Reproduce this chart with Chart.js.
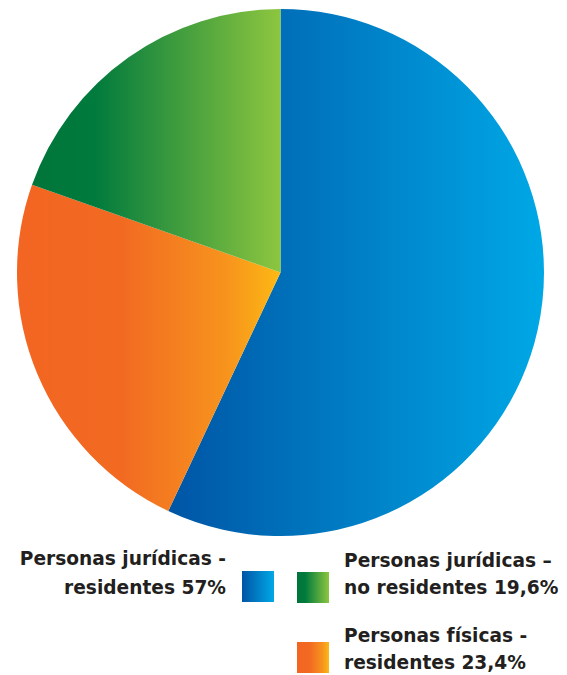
<!DOCTYPE html>
<html lang="es">
<head>
<meta charset="UTF-8">
<title>Distribución</title>
<script src="https://cdn.jsdelivr.net/npm/chart.js"></script>
<style>
    body {
        margin: 0;
        background: #fff;
        width: 567px;
        height: 675px;
        position: relative;
        overflow: hidden;
        font-family: "DejaVu Sans", Verdana, sans-serif;
    }
    #box {
        position: absolute;
        left: 17px;
        top: 9px;
        width: 527px;
        height: 527px;
    }
    .item {
        position: absolute;
        font-weight: bold;
        font-size: 18.6px;
        line-height: 27px;
        color: #231f20;
        white-space: nowrap;
    }
    .sw {
        position: absolute;
        width: 32px;
        height: 31px;
    }
</style>
</head>
<body>
<div id="box"><canvas id="pie"></canvas></div>

<div class="item" id="t0" style="right:341px; top:544px; text-align:right; line-height:29px;"></div>
<div class="sw" id="s0" style="left:242px; top:571px;"></div>

<div class="sw" id="s1" style="left:297px; top:572px;"></div>
<div class="item" id="t1" style="left:344px; top:547px;"></div>

<div class="sw" id="s2" style="left:297px; top:642px;"></div>
<div class="item" id="t2" style="left:344px; top:622px;"></div>

<script>
    // data
    const labels = ['Personas jurídicas - residentes', 'Personas físicas - residentes', 'Personas jurídicas – no residentes'];
    const legendLines = [
        ['Personas jurídicas -', 'residentes 57%'],
        ['Personas físicas -', 'residentes 23,4%'],
        ['Personas jurídicas –', 'no residentes 19,6%']
    ];
    const values = [57, 23.4, 19.6];
    // gradient stops per slice, left to right
    const gradStops = [
        [[0, '#0055a5'], [1, '#00a8e6']],
        [[0, '#f26522'], [0.4, '#f26a22'], [0.8, '#f7941d'], [1, '#fdb913']],
        [[0, '#00753a'], [0.25, '#007a3d'], [1, '#8dc63f']]
    ];

    // legend text + swatches (html items 0,1,2 -> data 0,2,1)
    const order = [0, 2, 1];
    order.forEach((d, i) => {
        document.getElementById('t' + i).innerHTML = legendLines[d].join('<br>');
        const css = gradStops[d].map(s => s[1] + ' ' + (s[0] * 100) + '%').join(', ');
        document.getElementById('s' + i).style.background = 'linear-gradient(to right, ' + css + ')';
    });

    const total = values.reduce((a, b) => a + b, 0);

    // horizontal extent of a slice, from its angles
    function sliceRange(i, cx, r) {
        let start = 0;
        for (let k = 0; k < i; k++) start += values[k] / total;
        const end = start + values[i] / total;
        let minX = cx, maxX = cx;
        for (let s = 0; s <= 60; s++) {
            const a = -Math.PI / 2 + 2 * Math.PI * (start + (end - start) * s / 60);
            const x = cx + r * Math.cos(a);
            minX = Math.min(minX, x);
            maxX = Math.max(maxX, x);
        }
        return [minX, maxX];
    }

    new Chart(document.getElementById('pie'), {
        type: 'pie',
        data: {
            labels: labels,
            datasets: [{
                data: values,
                borderWidth: 0,
                backgroundColor: function(context) {
                    const chart = context.chart;
                    const area = chart.chartArea;
                    const stops = gradStops[context.dataIndex];
                    if (!area) return stops[0][1];
                    const cx = (area.left + area.right) / 2;
                    const r = Math.min(area.right - area.left, area.bottom - area.top) / 2;
                    const range = sliceRange(context.dataIndex, cx, r);
                    const g = chart.ctx.createLinearGradient(range[0], 0, range[1], 0);
                    stops.forEach(s => g.addColorStop(s[0], s[1]));
                    return g;
                }
            }]
        },
        options: {
            responsive: true,
            maintainAspectRatio: false,
            animation: false,
            layout: { padding: 0 },
            plugins: {
                legend: { display: false },
                tooltip: { enabled: false }
            }
        }
    });
</script>
</body>
</html>
